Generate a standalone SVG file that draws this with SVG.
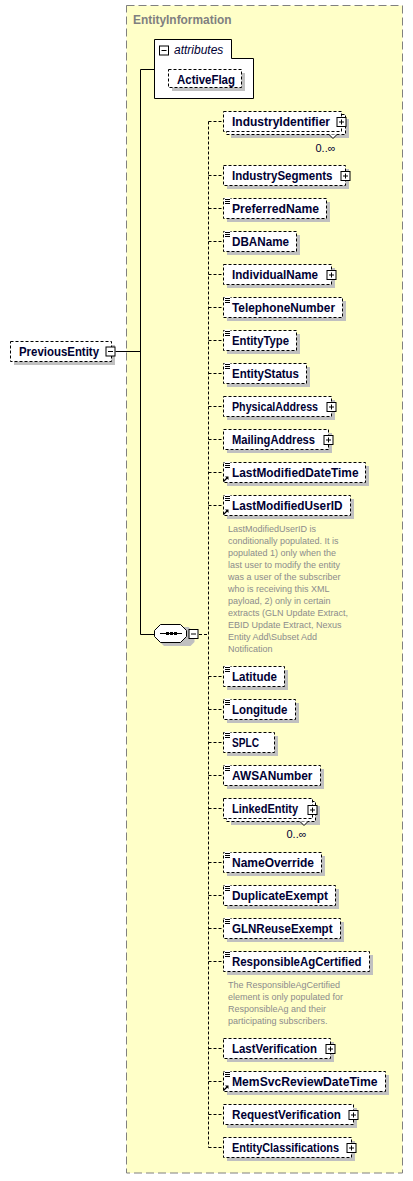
<svg xmlns="http://www.w3.org/2000/svg" width="413" height="1181" viewBox="0 0 413 1181">
<defs>
<style>
.bx{fill:#fff;stroke:#000;stroke-width:1;stroke-dasharray:3,2}
.sh{fill:#c0c0c0}
.nm{font-family:"Liberation Sans",Arial,sans-serif;font-weight:bold;font-size:12.5px;fill:#000033}
.card{font-family:"Liberation Sans",Arial,sans-serif;font-size:11px;fill:#000033}
.ann{font-family:"Liberation Sans",Arial,sans-serif;font-size:9px;fill:#8c8c8c}
.pb{fill:#fff;stroke:#000;stroke-width:1}
.ln{stroke:#000;stroke-width:1;fill:none}
.dl{stroke:#000;stroke-width:1;fill:none;stroke-dasharray:3,2}
.eq{stroke:#000;stroke-width:1}
</style>
<g id="plus"><rect class="pb" x="0.5" y="0.5" width="9" height="9"/><path class="ln" d="M2.5 5H7.5M5 2.5V7.5"/></g>
<g id="minus"><rect class="pb" x="0.5" y="0.5" width="9" height="9"/><path class="ln" d="M2.5 5H7.5"/></g>
<g id="eqi"><rect x="1.5" y="-0.5" width="6" height="7" fill="#fff"/><path class="eq" d="M2 1.5H7M2 3.5H7M2 5.5H7"/></g>
<g id="refi"><path d="M0.5 8.5L4.5 4.5" stroke="#000" stroke-width="1.2"/><path d="M2 3.5H5.5V7Z" fill="#000"/></g>
</defs>

<g id="container">
<rect x="126.5" y="5.5" width="276" height="1167.5" fill="#ffffc8" stroke="#808080" stroke-width="1" stroke-dasharray="8,4"/>
<text x="133" y="24" font-family="Liberation Sans,Arial,sans-serif" font-weight="bold" font-size="12" fill="#808080" textLength="98.5" lengthAdjust="spacingAndGlyphs">EntityInformation</text>
</g>

<g id="connectors">
<path class="ln" d="M115.5 351.5H140.5M140.5 69.5V634.5M140.5 69.5H154.5M140.5 634.5H154.5"/>
<path class="dl" d="M199 634.5H208.5M208.5 121.5V1147.5"/>
<path class="dl" d="M208.5 121.5H223M208.5 175.5H223M208.5 208.5H223M208.5 241.5H223M208.5 274.5H223M208.5 307.5H223M208.5 340.5H223M208.5 373.5H223M208.5 406.5H223M208.5 439.5H223M208.5 472.5H223M208.5 505.5H223M208.5 676.5H223M208.5 709.5H223M208.5 742.5H223M208.5 775.5H223M208.5 808.5H223M208.5 862.5H223M208.5 895.5H223M208.5 928.5H223M208.5 961.5H223M208.5 1048.5H223M208.5 1081.5H223M208.5 1114.5H223M208.5 1147.5H223"/>
</g>

<g id="PreviousEntity" transform="translate(10,341)">
<rect class="sh" x="4" y="4" width="101" height="20"/>
<rect class="bx" x="0.5" y="0.5" width="101" height="20"/>
<text class="nm" x="9" y="15" textLength="80" lengthAdjust="spacingAndGlyphs">PreviousEntity</text>
<use href="#minus" x="95.5" y="5.5"/>
</g>

<g id="attributes">
<path d="M154.5 39.5H231.5V58.5H253.5V98.5H154.5Z" fill="#fff" stroke="#000"/>
<use href="#minus" x="159" y="45.5"/>
<text x="174" y="54" font-family="Liberation Sans,Arial,sans-serif" font-style="italic" font-size="12" fill="#000033">attributes</text>
<g id="ActiveFlag">
<rect class="sh" x="172" y="73" width="73" height="18"/>
<rect class="bx" x="168.5" y="69.5" width="73" height="18"/>
<text class="nm" x="177" y="83.5" textLength="58" lengthAdjust="spacingAndGlyphs">ActiveFlag</text>
</g>
</g>

<g id="sequence">
<path d="M164 628H188.5L194.5 634V643L190.5 647H164L158 641V634Z" fill="#c0c0c0" transform="translate(0,-1)"/>
<path d="M160.5 624.5H180.5L186.5 630.5V636.5L180.5 642.5H160.5L154.5 636.5V630.5Z" fill="#fff" stroke="#000"/>
<path class="ln" d="M160 633.5H182"/>
<rect x="166" y="632" width="3" height="3" fill="#000"/>
<rect x="170" y="632" width="3" height="3" fill="#000"/>
<rect x="174" y="632" width="3" height="3" fill="#000"/>
<use href="#minus" x="188.5" y="629"/>
</g>

<g id="IndustryIdentifier" transform="translate(223,111)">
<rect class="sh" x="8" y="8" width="118" height="19"/>
<rect class="bx" x="3.5" y="3.5" width="119" height="20"/>
<rect class="bx" x="0.5" y="0.5" width="118" height="20"/>
<text class="nm" x="9" y="15" textLength="98" lengthAdjust="spacingAndGlyphs">IndustryIdentifier</text>
<use href="#plus" x="113.5" y="6"/>
<path d="M106 23.5L110 27.5L114 23.5" fill="#fff" stroke="#000"/>
<text class="card" x="92.5" y="40.5">0..∞</text>
</g>

<g id="IndustrySegments" transform="translate(223,165)">
<rect class="sh" x="4" y="4" width="122" height="20"/>
<rect class="bx" x="0.5" y="0.5" width="122" height="20"/>
<text class="nm" x="9" y="15" textLength="100.5" lengthAdjust="spacingAndGlyphs">IndustrySegments</text>
<use href="#plus" x="117.5" y="6"/>
</g>

<g id="PreferredName" transform="translate(223,198)">
<rect class="sh" x="4" y="4" width="103" height="20"/>
<rect class="bx" x="0.5" y="0.5" width="103" height="20"/>
<use href="#eqi" x="0" y="0"/>
<text class="nm" x="9" y="15" textLength="87" lengthAdjust="spacingAndGlyphs">PreferredName</text>
</g>

<g id="DBAName" transform="translate(223,231)">
<rect class="sh" x="4" y="4" width="73" height="20"/>
<rect class="bx" x="0.5" y="0.5" width="73" height="20"/>
<use href="#eqi" x="0" y="0"/>
<text class="nm" x="9" y="15" textLength="57" lengthAdjust="spacingAndGlyphs">DBAName</text>
</g>

<g id="IndividualName" transform="translate(223,264)">
<rect class="sh" x="4" y="4" width="108" height="20"/>
<rect class="bx" x="0.5" y="0.5" width="108" height="20"/>
<text class="nm" x="9" y="15" textLength="86" lengthAdjust="spacingAndGlyphs">IndividualName</text>
<use href="#plus" x="103.5" y="6"/>
</g>

<g id="TelephoneNumber" transform="translate(223,297)">
<rect class="sh" x="4" y="4" width="119" height="20"/>
<rect class="bx" x="0.5" y="0.5" width="119" height="20"/>
<use href="#eqi" x="0" y="0"/>
<text class="nm" x="9" y="15" textLength="103" lengthAdjust="spacingAndGlyphs">TelephoneNumber</text>
</g>

<g id="EntityType" transform="translate(223,330)">
<rect class="sh" x="4" y="4" width="73" height="20"/>
<rect class="bx" x="0.5" y="0.5" width="73" height="20"/>
<use href="#eqi" x="0" y="0"/>
<text class="nm" x="9" y="15" textLength="57" lengthAdjust="spacingAndGlyphs">EntityType</text>
</g>

<g id="EntityStatus" transform="translate(223,363)">
<rect class="sh" x="4" y="4" width="83" height="20"/>
<rect class="bx" x="0.5" y="0.5" width="83" height="20"/>
<use href="#eqi" x="0" y="0"/>
<text class="nm" x="9" y="15" textLength="67" lengthAdjust="spacingAndGlyphs">EntityStatus</text>
</g>

<g id="PhysicalAddress" transform="translate(223,396)">
<rect class="sh" x="4" y="4" width="108" height="20"/>
<rect class="bx" x="0.5" y="0.5" width="108" height="20"/>
<text class="nm" x="9" y="15" textLength="86" lengthAdjust="spacingAndGlyphs">PhysicalAddress</text>
<use href="#plus" x="103.5" y="6"/>
</g>

<g id="MailingAddress" transform="translate(223,429)">
<rect class="sh" x="4" y="4" width="105" height="20"/>
<rect class="bx" x="0.5" y="0.5" width="105" height="20"/>
<text class="nm" x="9" y="15" textLength="83" lengthAdjust="spacingAndGlyphs">MailingAddress</text>
<use href="#plus" x="100.5" y="6"/>
</g>

<g id="LastModifiedDateTime" transform="translate(223,462)">
<rect class="sh" x="4" y="4" width="142" height="20"/>
<rect class="bx" x="0.5" y="0.5" width="142" height="20"/>
<use href="#eqi" x="0" y="0"/>
<use href="#refi" x="0" y="11"/>
<text class="nm" x="9" y="15" textLength="126.5" lengthAdjust="spacingAndGlyphs">LastModifiedDateTime</text>
</g>

<g id="LastModifiedUserID" transform="translate(223,495)">
<rect class="sh" x="4" y="4" width="127" height="20"/>
<rect class="bx" x="0.5" y="0.5" width="127" height="20"/>
<use href="#eqi" x="0" y="0"/>
<use href="#refi" x="0" y="11"/>
<text class="nm" x="9" y="15" textLength="110.5" lengthAdjust="spacingAndGlyphs">LastModifiedUserID</text>
<text class="ann" x="5" y="36.5">LastModifiedUserID is</text>
<text class="ann" x="5" y="48.5">conditionally populated. It is</text>
<text class="ann" x="5" y="60.5">populated 1) only when the</text>
<text class="ann" x="5" y="72.5">last user to modify the entity</text>
<text class="ann" x="5" y="84.5">was a user of the subscriber</text>
<text class="ann" x="5" y="96.5">who is receiving this XML</text>
<text class="ann" x="5" y="108.5">payload, 2) only in certain</text>
<text class="ann" x="5" y="120.5">extracts (GLN Update Extract,</text>
<text class="ann" x="5" y="132.5">EBID Update Extract, Nexus</text>
<text class="ann" x="5" y="144.5">Entity Add\Subset Add</text>
<text class="ann" x="5" y="156.5">Notification</text>
</g>

<g id="Latitude" transform="translate(223,666)">
<rect class="sh" x="4" y="4" width="61" height="20"/>
<rect class="bx" x="0.5" y="0.5" width="61" height="20"/>
<use href="#eqi" x="0" y="0"/>
<text class="nm" x="9" y="15" textLength="45" lengthAdjust="spacingAndGlyphs">Latitude</text>
</g>

<g id="Longitude" transform="translate(223,699)">
<rect class="sh" x="4" y="4" width="72" height="20"/>
<rect class="bx" x="0.5" y="0.5" width="72" height="20"/>
<use href="#eqi" x="0" y="0"/>
<text class="nm" x="9" y="15" textLength="55.5" lengthAdjust="spacingAndGlyphs">Longitude</text>
</g>

<g id="SPLC" transform="translate(223,732)">
<rect class="sh" x="4" y="4" width="51" height="20"/>
<rect class="bx" x="0.5" y="0.5" width="51" height="20"/>
<use href="#eqi" x="0" y="0"/>
<text class="nm" x="9" y="15" textLength="27" lengthAdjust="spacingAndGlyphs">SPLC</text>
</g>

<g id="AWSANumber" transform="translate(223,765)">
<rect class="sh" x="4" y="4" width="97" height="20"/>
<rect class="bx" x="0.5" y="0.5" width="97" height="20"/>
<use href="#eqi" x="0" y="0"/>
<text class="nm" x="9" y="15" textLength="80.5" lengthAdjust="spacingAndGlyphs">AWSANumber</text>
</g>

<g id="LinkedEntity" transform="translate(223,798)">
<rect class="sh" x="8" y="8" width="89" height="19"/>
<rect class="bx" x="3.5" y="3.5" width="89" height="20"/>
<rect class="bx" x="0.5" y="0.5" width="89" height="20"/>
<text class="nm" x="9" y="15" textLength="66" lengthAdjust="spacingAndGlyphs">LinkedEntity</text>
<use href="#plus" x="84.5" y="7"/>
<path d="M77 23.5L81 27.5L85 23.5" fill="#fff" stroke="#000"/>
<text class="card" x="63.5" y="39.5">0..∞</text>
</g>

<g id="NameOverride" transform="translate(223,852)">
<rect class="sh" x="4" y="4" width="98" height="20"/>
<rect class="bx" x="0.5" y="0.5" width="98" height="20"/>
<use href="#eqi" x="0" y="0"/>
<text class="nm" x="9" y="15" textLength="82" lengthAdjust="spacingAndGlyphs">NameOverride</text>
</g>

<g id="DuplicateExempt" transform="translate(223,885)">
<rect class="sh" x="4" y="4" width="112" height="20"/>
<rect class="bx" x="0.5" y="0.5" width="112" height="20"/>
<use href="#eqi" x="0" y="0"/>
<text class="nm" x="9" y="15" textLength="96" lengthAdjust="spacingAndGlyphs">DuplicateExempt</text>
</g>

<g id="GLNReuseExempt" transform="translate(223,918)">
<rect class="sh" x="4" y="4" width="117" height="20"/>
<rect class="bx" x="0.5" y="0.5" width="117" height="20"/>
<use href="#eqi" x="0" y="0"/>
<text class="nm" x="9" y="15" textLength="100.5" lengthAdjust="spacingAndGlyphs">GLNReuseExempt</text>
</g>

<g id="ResponsibleAgCertified" transform="translate(223,951)">
<rect class="sh" x="4" y="4" width="146" height="20"/>
<rect class="bx" x="0.5" y="0.5" width="146" height="20"/>
<use href="#eqi" x="0" y="0"/>
<text class="nm" x="9" y="15" textLength="129.5" lengthAdjust="spacingAndGlyphs">ResponsibleAgCertified</text>
<text class="ann" x="5" y="37">The ResponsibleAgCertified</text>
<text class="ann" x="5" y="49">element is only populated for</text>
<text class="ann" x="5" y="61">ResponsibleAg and their</text>
<text class="ann" x="5" y="73">participating subscribers.</text>
</g>

<g id="LastVerification" transform="translate(223,1038)">
<rect class="sh" x="4" y="4" width="107" height="20"/>
<rect class="bx" x="0.5" y="0.5" width="107" height="20"/>
<text class="nm" x="9" y="15" textLength="85" lengthAdjust="spacingAndGlyphs">LastVerification</text>
<use href="#plus" x="102.5" y="6"/>
</g>

<g id="MemSvcReviewDateTime" transform="translate(223,1071)">
<rect class="sh" x="4" y="4" width="162" height="20"/>
<rect class="bx" x="0.5" y="0.5" width="162" height="20"/>
<use href="#eqi" x="0" y="0"/>
<use href="#refi" x="0" y="11"/>
<text class="nm" x="9" y="15" textLength="145.5" lengthAdjust="spacingAndGlyphs">MemSvcReviewDateTime</text>
</g>

<g id="RequestVerification" transform="translate(223,1104)">
<rect class="sh" x="4" y="4" width="130" height="20"/>
<rect class="bx" x="0.5" y="0.5" width="130" height="20"/>
<text class="nm" x="9" y="15" textLength="109" lengthAdjust="spacingAndGlyphs">RequestVerification</text>
<use href="#plus" x="125.5" y="6"/>
</g>

<g id="EntityClassifications" transform="translate(223,1137)">
<rect class="sh" x="4" y="4" width="128" height="20"/>
<rect class="bx" x="0.5" y="0.5" width="128" height="20"/>
<text class="nm" x="9" y="15" textLength="107" lengthAdjust="spacingAndGlyphs">EntityClassifications</text>
<use href="#plus" x="123.5" y="6"/>
</g>
</svg>
